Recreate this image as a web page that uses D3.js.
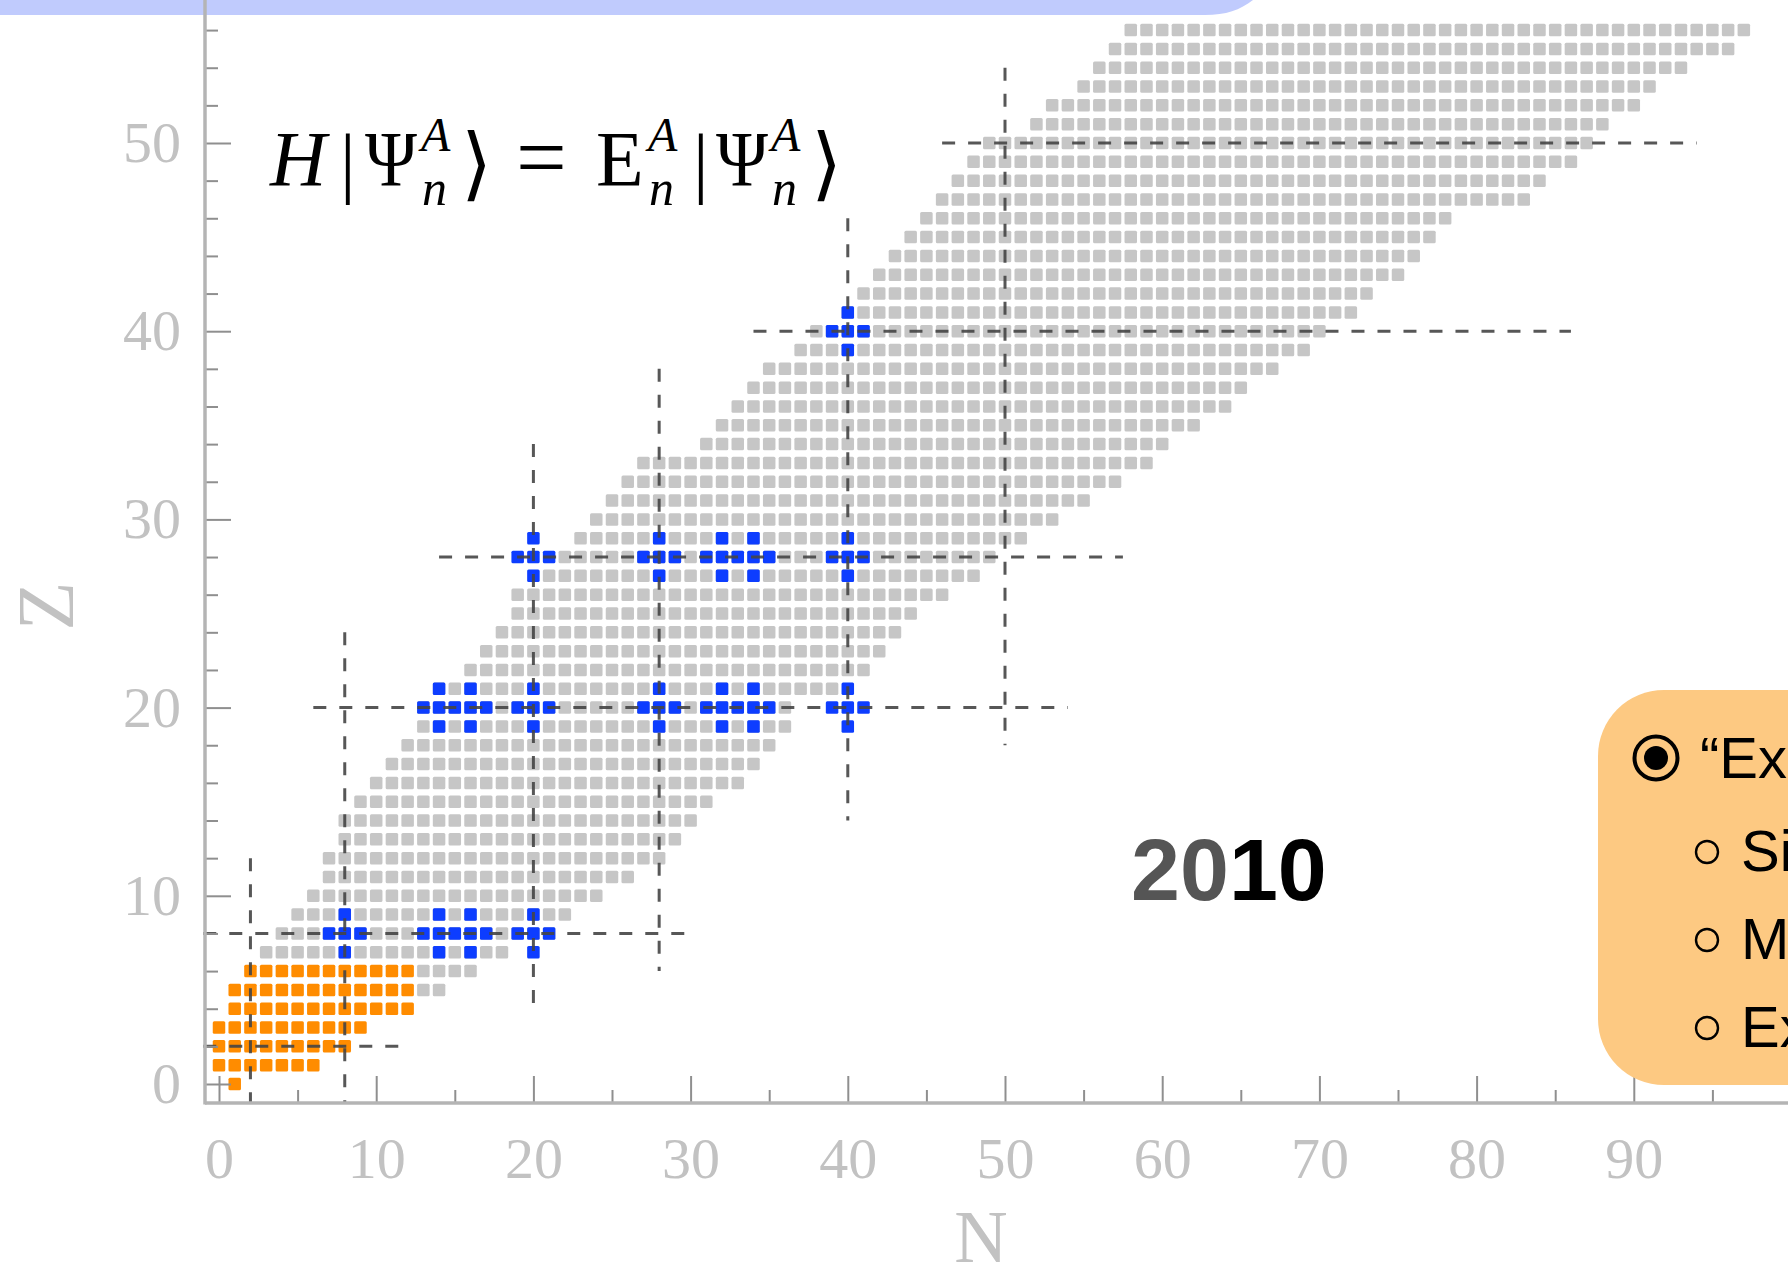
<!DOCTYPE html>
<html>
<head>
<meta charset="utf-8">
<script src="https://cdn.jsdelivr.net/npm/d3@7"></script>
<style>
    html, body { margin: 0; padding: 0; background: #fff; overflow: hidden; }
    svg { display: block; }
</style>
</head>
<body>
<div id="chart"></div>
<script>
// gray cells: one row per Z, first and last N of the row
const grayZ    = [5, 6, 7, 8, 9, 10, 11, 12, 13, 14, 15, 16, 17, 18, 19, 20, 21, 22, 23, 24, 25, 26, 27, 28, 29, 30,
                  31, 32, 33, 34, 35, 36, 37, 38, 39, 40, 41, 42, 43, 44, 45, 46, 47, 48, 49, 50, 51, 52, 53, 54, 55, 56];
const grayFrom = [13, 13, 3, 4, 5, 6, 7, 7, 8, 8, 9, 10, 11, 12, 13, 13, 14, 16, 17, 18, 19, 19, 21, 22, 23, 24,
                  25, 26, 27, 31, 32, 33, 34, 35, 37, 38, 40, 41, 42, 43, 44, 45, 46, 47, 48, 49, 52, 53, 55, 56, 57, 58];
const grayTo   = [14, 16, 18, 21, 22, 24, 26, 28, 29, 30, 31, 33, 34, 35, 36, 36, 39, 41, 42, 43, 44, 46, 48, 49, 51, 53,
                  55, 57, 59, 60, 62, 64, 65, 67, 69, 70, 72, 73, 75, 76, 77, 78, 83, 84, 86, 87, 88, 90, 91, 93, 96, 97];

// orange cells (light nuclei)
const orangeZ    = [0, 1, 2, 3, 4, 5, 6];
const orangeFrom = [1, 0, 0, 0, 1, 1, 2];
const orangeTo   = [1, 6, 8, 9, 12, 12, 12];

// blue cells: Z and the list of N
const blueZ = [7, 8, 9, 19, 20, 21, 27, 28, 29, 39, 40, 41];
const blueN = [
    [8, 14, 16, 20],
    [7, 8, 9, 13, 14, 15, 16, 17, 19, 20, 21],
    [8, 14, 16, 20],
    [14, 16, 20, 28, 32, 34, 40],
    [13, 14, 15, 16, 17, 19, 20, 21, 27, 28, 29, 31, 32, 33, 34, 35, 39, 40, 41],
    [14, 16, 20, 28, 32, 34, 40],
    [20, 28, 32, 34, 40],
    [19, 20, 21, 27, 28, 29, 31, 32, 33, 34, 35, 39, 40, 41],
    [20, 28, 32, 34, 40],
    [40],
    [39, 40, 41],
    [40]
];

// dashed magic-number lines
const hLineZ    = [2, 8, 20, 28, 40, 50];
const hLineFrom = [-1, -1, 6, 14, 34, 46];
const hLineTo   = [12, 30, 54, 57.5, 86, 94];
const vLineN    = [2, 8, 20, 28, 40, 50];
const vLineFrom = [-1, -1, 4, 6, 14, 18];
const vLineTo   = [12, 24, 34, 38, 46, 54];

const nTicks = [0, 10, 20, 30, 40, 50, 60, 70, 80, 90];
const nMinor = [5, 15, 25, 35, 45, 55, 65, 75, 85, 95];
const zTicks = [0, 10, 20, 30, 40, 50];
const zMinor = [2, 4, 6, 8, 12, 14, 16, 18, 22, 24, 26, 28, 32, 34, 36, 38, 42, 44, 46, 48, 52, 54, 56];

const noteHead = "\u201CEx";
const noteItems = ["Si", "M", "Ex"];

const W = 1788, H = 1278;
const axisX = 205, axisY = 1103;

const svg = d3.select("#chart")
    .append("svg")
    .attr("width", W)
    .attr("height", H);

const x = d3.scaleLinear().domain([0, 100]).range([219, 1791]);
const y = d3.scaleLinear().domain([0, 50]).range([1084, 143]);

const cell = 12.5;

const defs = svg.append("defs");
defs.append("filter").attr("id", "soft")
    .append("feGaussianBlur").attr("stdDeviation", 0.7);

// top blue bar
svg.append("path")
    .attr("d", "M0,0 H1253 C1240,10 1226,15 1205,15 H0 Z")
    .attr("fill", "#c0cbfd");

// expand rows into cells
const grayCells = [];
grayZ.forEach((z, i) => d3.range(grayFrom[i], grayTo[i] + 1).forEach(n => grayCells.push({ n, z })));
const orangeCells = [];
orangeZ.forEach((z, i) => d3.range(orangeFrom[i], orangeTo[i] + 1).forEach(n => orangeCells.push({ n, z })));
const blueCells = [];
blueZ.forEach((z, i) => blueN[i].forEach(n => blueCells.push({ n, z })));

const cells = svg.append("g").attr("filter", "url(#soft)");

function drawCells(data, color) {
    cells.append("g")
        .selectAll("rect")
        .data(data)
        .join("rect")
        .attr("x", d => x(d.n) - cell / 2)
        .attr("y", d => y(d.z) - cell / 2)
        .attr("width", cell)
        .attr("height", cell)
        .attr("rx", 1.5)
        .attr("fill", color);
}
drawCells(grayCells, "#c6c6c6");
drawCells(orangeCells, "#ff8c00");
drawCells(blueCells, "#0a3cff");

// dashed lines
const dashes = svg.append("g")
    .attr("stroke", "#454545")
    .attr("stroke-width", 3)
    .attr("stroke-dasharray", "13,13")
    .attr("opacity", 0.9);

dashes.selectAll("line.h")
    .data(hLineZ)
    .join("line")
    .attr("class", "h")
    .attr("x1", (d, i) => x(hLineFrom[i]))
    .attr("x2", (d, i) => x(hLineTo[i]))
    .attr("y1", d => y(d))
    .attr("y2", d => y(d));

dashes.selectAll("line.v")
    .data(vLineN)
    .join("line")
    .attr("class", "v")
    .attr("x1", d => x(d))
    .attr("x2", d => x(d))
    .attr("y1", (d, i) => y(vLineTo[i]))
    .attr("y2", (d, i) => y(vLineFrom[i]));

// axes
const labelFont = "'Liberation Serif', 'DejaVu Serif', serif";

function styleAxis(g) {
    g.select(".domain").remove();
    g.selectAll(".tick line").attr("stroke", "#8f8f8f").attr("stroke-width", 2);
    g.selectAll(".tick text")
        .attr("fill", "#c2c2c2")
        .style("font-family", labelFont)
        .style("font-size", "58px");
}

svg.append("g")
    .attr("transform", `translate(0,${axisY})`)
    .call(d3.axisBottom(x).tickValues(nTicks).tickSize(-27).tickPadding(34).tickFormat(d3.format("d")))
    .call(styleAxis);

svg.append("g")
    .attr("transform", `translate(0,${axisY})`)
    .call(d3.axisBottom(x).tickValues(nMinor).tickSize(-13).tickFormat(""))
    .call(styleAxis);

svg.append("g")
    .attr("transform", `translate(${axisX},0)`)
    .call(d3.axisLeft(y).tickValues(zTicks).tickSize(-26).tickPadding(24).tickFormat(d3.format("d")))
    .call(styleAxis);

svg.append("g")
    .attr("transform", `translate(${axisX},0)`)
    .call(d3.axisLeft(y).tickValues(zMinor).tickSize(-13).tickFormat(""))
    .call(styleAxis);

svg.append("line")
    .attr("x1", axisX).attr("x2", W)
    .attr("y1", axisY).attr("y2", axisY)
    .attr("stroke", "#b4b4b4").attr("stroke-width", 3.5);

svg.append("line")
    .attr("x1", axisX).attr("x2", axisX)
    .attr("y1", 0).attr("y2", axisY + 1.5)
    .attr("stroke", "#b4b4b4").attr("stroke-width", 3.5);

svg.append("text")
    .attr("x", 981)
    .attr("y", 1262)
    .attr("text-anchor", "middle")
    .attr("fill", "#c2c2c2")
    .style("font-family", labelFont)
    .style("font-size", "74px")
    .text("N");

svg.append("text")
    .attr("transform", "translate(73,606) rotate(-90)")
    .attr("text-anchor", "middle")
    .attr("fill", "#c2c2c2")
    .style("font-family", labelFont)
    .style("font-size", "80px")
    .text("Z");

// Schroedinger equation as a single text made of positioned pieces
const eq = svg.append("text")
    .attr("fill", "#000")
    .style("font-family", labelFont);

function piece(tx, ty, size, str, italic, len) {
    const t = eq.append("tspan")
        .attr("x", tx)
        .attr("y", ty)
        .style("font-size", size + "px")
        .style("font-style", italic ? "italic" : "normal")
        .text(str);
    if (len) t.attr("textLength", len).attr("lengthAdjust", "spacingAndGlyphs");
}
piece(270, 185, 78, "H", true);
piece(340, 188, 78, "|", false);
piece(365, 185, 78, "\u03A8", false, 52);
piece(421, 151, 48, "A", true);
piece(422, 205, 50, "n", true);
piece(461, 191, 80, "\u27E9", false);
piece(516, 188, 90, "=", false);
piece(596, 185, 78, "E", false);
piece(648, 151, 48, "A", true);
piece(649, 205, 50, "n", true);
piece(693, 188, 78, "|", false);
piece(716, 185, 78, "\u03A8", false, 52);
piece(771, 151, 48, "A", true);
piece(772, 205, 50, "n", true);
piece(811, 191, 80, "\u27E9", false);

// year
const year = svg.append("text")
    .attr("x", 1131)
    .attr("y", 900)
    .style("font-family", "'Liberation Sans', Arial, sans-serif")
    .style("font-weight", "bold")
    .style("font-size", "88px");
year.append("tspan").attr("fill", "#555").text("20");
year.append("tspan").attr("fill", "#000").text("10");

// orange note box, cut by the right edge
svg.append("rect")
    .attr("x", 1598)
    .attr("y", 690)
    .attr("width", 300)
    .attr("height", 395)
    .attr("rx", 66)
    .attr("fill", "#fdc982");

const sans = "'Liberation Sans', Arial, sans-serif";

svg.append("circle")
    .attr("cx", 1656).attr("cy", 758).attr("r", 21.5)
    .attr("fill", "none").attr("stroke", "#000").attr("stroke-width", 4);
svg.append("circle")
    .attr("cx", 1656).attr("cy", 758).attr("r", 12)
    .attr("fill", "#000");
svg.append("text")
    .attr("x", 1700).attr("y", 778)
    .style("font-family", sans).style("font-size", "58px")
    .text(noteHead);

const subY = [871, 959, 1047];
subY.forEach((by, i) => {
    svg.append("circle")
        .attr("cx", 1707).attr("cy", by - 19).attr("r", 11)
        .attr("fill", "none").attr("stroke", "#000").attr("stroke-width", 2.4);
    svg.append("text")
        .attr("x", 1741).attr("y", by)
        .style("font-family", sans).style("font-size", "58px")
        .text(noteItems[i]);
});
</script>
</body>
</html>
